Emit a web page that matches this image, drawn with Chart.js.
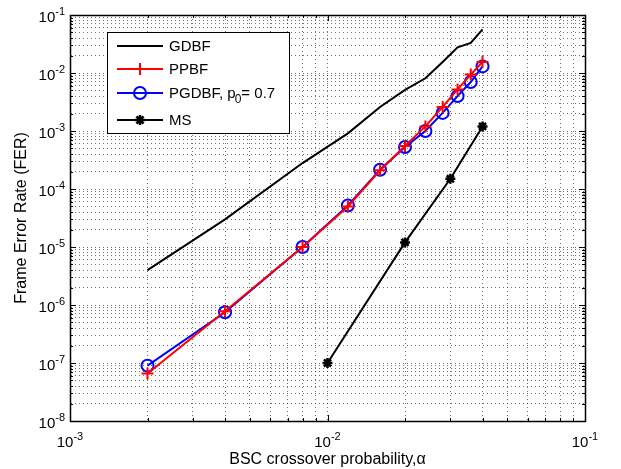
<!DOCTYPE html>
<html>
<head>
<meta charset="utf-8">
<script src="https://cdn.jsdelivr.net/npm/chart.js@4.4.0/dist/chart.umd.min.js"></script>
<style>
  body { margin: 0; background: #fff; }
  #wrap { width: 621px; height: 469px; }
</style>
</head>
<body>
<div id="wrap"><canvas id="c"></canvas></div>
<script>
// BSC crossover probability (x)
var alpha = [0.002, 0.004, 0.008, 0.012, 0.016, 0.02, 0.024, 0.028, 0.032, 0.036, 0.04];
var alphaMS = [0.01, 0.02, 0.03, 0.04];

// frame error rates (y)
var gdbf  = [4.0e-6, 3.0e-5, 2.8e-4, 9.1e-4, 2.6e-3, 5.1e-3, 8.1e-3, 1.55e-2, 2.77e-2, 3.3e-2, 5.65e-2];
var ppbf  = [6.6e-8, 7.8e-7, 1.0e-5, 5.0e-5, 2.1e-4, 5.5e-4, 1.2e-3, 2.6e-3, 5.2e-3, 9.4e-3, 1.55e-2];
var pgdbf = [9.0e-8, 7.5e-7, 1.0e-5, 5.2e-5, 2.15e-4, 5.3e-4, 1.0e-3, 2.05e-3, 4.0e-3, 7.0e-3, 1.3e-2];
var ms    = [1.0e-7, 1.2e-5, 1.5e-4, 1.2e-3];

var labels = ['GDBF', 'PPBF', 'PGDBF, p\u2080= 0.7', 'MS'];

var FONT = '"Liberation Sans", Arial, sans-serif';

function pts(xs, ys) {
  return xs.map(function(x, i) { return {x: x, y: ys[i]}; });
}

function isDecade(v) {
  var l = Math.log10(v);
  return Math.abs(l - Math.round(l)) < 1e-9;
}

// 1..9 x 10^n ticks for every decade
function logTicks(scale) {
  var t = [];
  var e0 = Math.round(Math.log10(scale.min)), e1 = Math.round(Math.log10(scale.max));
  for (var e = e0; e < e1; e++) {
    for (var m = 1; m < 10; m++) t.push({value: m * Math.pow(10, e)});
  }
  t.push({value: scale.max});
  scale.ticks = t;
}

// "10" with a raised exponent; x is the anchor, y the baseline of "10"
function drawPow(ctx, v, x, y, align) {
  var e = String(Math.round(Math.log10(v)));
  ctx.font = '15px ' + FONT;
  var wb = ctx.measureText('10').width;
  ctx.font = '11px ' + FONT;
  var we = ctx.measureText(e).width;
  var left = align === 'right' ? x - wb - we : x - (wb + we) / 2;
  ctx.textAlign = 'left';
  ctx.textBaseline = 'alphabetic';
  ctx.font = '15px ' + FONT;
  ctx.fillText('10', left, y);
  ctx.font = '11px ' + FONT;
  ctx.fillText(e, left + wb, y - 7);
}

var framePlugin = {
  id: 'frame',
  afterDatasetsDraw: function(chart) {
    var ctx = chart.ctx, a = chart.chartArea;
    var xs = chart.scales.x, ys = chart.scales.y;
    ctx.save();
    ctx.strokeStyle = '#000';
    ctx.lineWidth = 1;
    ctx.setLineDash([]);
    ctx.beginPath();
    xs.ticks.forEach(function(t) {
      var p = Math.round(xs.getPixelForValue(t.value)) + 0.5;
      var len = isDecade(t.value) ? 6 : 3;
      ctx.moveTo(p, a.bottom); ctx.lineTo(p, a.bottom - len);
      ctx.moveTo(p, a.top); ctx.lineTo(p, a.top + len);
    });
    ys.ticks.forEach(function(t) {
      var p = Math.round(ys.getPixelForValue(t.value)) + 0.5;
      var len = isDecade(t.value) ? 6 : 3;
      ctx.moveTo(a.left, p); ctx.lineTo(a.left + len, p);
      ctx.moveTo(a.right, p); ctx.lineTo(a.right - len, p);
    });
    ctx.stroke();
    ctx.lineWidth = 1.5;
    ctx.strokeRect(Math.round(a.left) + 0.5, Math.round(a.top) + 0.5,
      Math.round(a.right - a.left), Math.round(a.bottom - a.top));

    // decade tick labels
    ctx.fillStyle = '#000';
    xs.ticks.forEach(function(t) {
      if (isDecade(t.value)) drawPow(ctx, t.value, xs.getPixelForValue(t.value), a.bottom + 26, 'center');
    });
    ys.ticks.forEach(function(t) {
      if (isDecade(t.value)) drawPow(ctx, t.value, a.left - 5, ys.getPixelForValue(t.value) + 7, 'right');
    });
    ctx.restore();
  },
  afterDraw: function(chart) {
    // legend box inside the plot, top-left
    var ctx = chart.ctx;
    var box = {l: 107.5, t: 32.5, w: 182, h: 101};
    var rows = [46, 69, 93, 120];
    ctx.save();
    ctx.fillStyle = '#fff';
    ctx.fillRect(box.l, box.t, box.w, box.h);
    ctx.strokeStyle = '#000';
    ctx.lineWidth = 1;
    ctx.strokeRect(box.l, box.t, box.w, box.h);
    chart.data.datasets.forEach(function(ds, i) {
      var y = rows[i];
      ctx.strokeStyle = ds.borderColor;
      ctx.lineWidth = ds.borderWidth;
      ctx.beginPath();
      ctx.moveTo(117, y); ctx.lineTo(163, y);
      ctx.stroke();
      if (ds.pointRadius > 0) {
        ctx.fillStyle = ds.pointBackgroundColor;
        ctx.strokeStyle = ds.pointBorderColor;
        ctx.lineWidth = ds.pointBorderWidth;
        Chart.helpers.drawPoint(ctx, {pointStyle: ds.pointStyle, radius: ds.pointRadius,
          borderWidth: ds.pointBorderWidth, rotation: 0}, 140, y);
      }
      ctx.fillStyle = '#000';
      ctx.textBaseline = 'alphabetic';
      ctx.textAlign = 'left';
      // subscript digit drawn lowered
      var parts = ds.label.split('\u2080');
      var x = 169, base = y + 5;
      ctx.font = '15px ' + FONT;
      ctx.fillText(parts[0], x, base);
      if (parts.length > 1) {
        x += ctx.measureText(parts[0]).width - 1;
        ctx.font = '12px ' + FONT;
        ctx.fillText('0', x, base + 5);
        x += ctx.measureText('0').width;
        ctx.font = '15px ' + FONT;
        ctx.fillText(parts[1], x, base);
      }
    });
    ctx.restore();
  }
};

var ctx = document.getElementById('c').getContext('2d');
new Chart(ctx, {
  type: 'line',
  data: {
    datasets: [
      {
        label: labels[0], data: pts(alpha, gdbf),
        borderColor: '#000', borderWidth: 2, pointRadius: 0, pointHoverRadius: 0
      },
      {
        label: labels[1], data: pts(alpha, ppbf),
        borderColor: '#ff0000', borderWidth: 2,
        pointStyle: 'cross', pointRadius: 6, pointBorderWidth: 2,
        pointBorderColor: '#ff0000', pointBackgroundColor: '#ff0000'
      },
      {
        label: labels[2], data: pts(alpha, pgdbf),
        borderColor: '#0000ff', borderWidth: 2,
        pointStyle: 'circle', pointRadius: 6, pointBorderWidth: 2,
        pointBorderColor: '#0000ff', pointBackgroundColor: 'rgba(0,0,0,0)'
      },
      {
        label: labels[3], data: pts(alphaMS, ms),
        borderColor: '#000', borderWidth: 2,
        pointStyle: 'star', pointRadius: 5, pointBorderWidth: 2.5,
        pointBorderColor: '#000', pointBackgroundColor: '#000'
      }
    ]
  },
  options: {
    responsive: true,
    maintainAspectRatio: false,
    animation: false,
    layout: { padding: { top: 15, right: 36, left: 0, bottom: 0 } },
    elements: { line: { tension: 0 } },
    plugins: {
      legend: { display: false },
      tooltip: { enabled: false }
    },
    scales: {
      x: {
        type: 'logarithmic',
        min: 1e-3, max: 1e-1,
        afterBuildTicks: logTicks,
        afterFit: function(s) { s.height = 48; },
        ticks: { display: false, autoSkip: false },
        grid: { color: 'rgba(0,0,0,0.55)', drawTicks: false },
        border: { display: true, color: '#000', dash: [1, 3] },
        title: {
          display: true, text: 'BSC crossover probability,\u03B1',
          color: '#000', font: { family: FONT, size: 16 }, padding: { top: 0, bottom: 0 }
        }
      },
      y: {
        type: 'logarithmic',
        min: 1e-8, max: 1e-1,
        afterBuildTicks: logTicks,
        afterFit: function(s) { s.width = 70; },
        ticks: { display: false, autoSkip: false },
        grid: { color: 'rgba(0,0,0,0.55)', drawTicks: false },
        border: { display: true, color: '#000', dash: [1, 3] },
        title: {
          display: true, text: 'Frame Error Rate (FER)',
          color: '#000', font: { family: FONT, size: 16 }, padding: { top: 12, bottom: 0 }
        }
      }
    }
  },
  plugins: [framePlugin]
});
</script>
</body>
</html>
